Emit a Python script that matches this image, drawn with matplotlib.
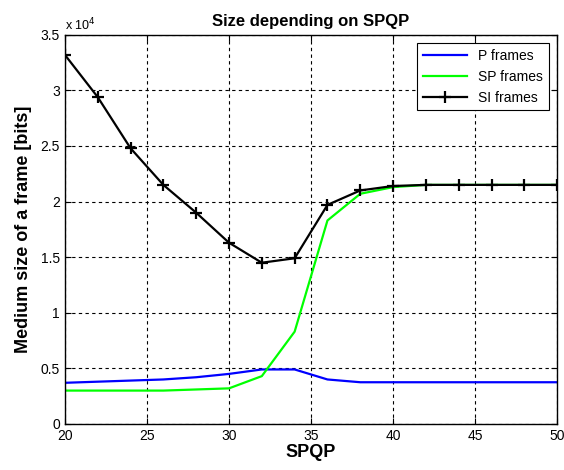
import numpy as np
import matplotlib
matplotlib.use("Agg")
import matplotlib.pyplot as plt

plt.rcParams['font.family'] = ['Liberation Sans', 'DejaVu Sans']

spqp = [20, 22, 24, 26, 28, 30, 32, 34, 36, 38, 40, 42, 44, 46, 48, 50]
p_frames = [0.37, 0.38, 0.39, 0.40, 0.42, 0.45, 0.49, 0.49, 0.40, 0.375, 0.375,
            0.375, 0.375, 0.375, 0.375, 0.375]
sp_frames = [0.30, 0.30, 0.30, 0.30, 0.31, 0.32, 0.43, 0.83, 1.83, 2.07, 2.13,
             2.15, 2.15, 2.15, 2.15, 2.15]
si_frames = [3.32, 2.94, 2.48, 2.15, 1.90, 1.63, 1.45, 1.49, 1.97, 2.10, 2.14,
             2.15, 2.15, 2.15, 2.15, 2.15]

fig = plt.figure(figsize=(5.64, 4.70), dpi=100)
ax = fig.add_axes([0.115, 0.098, 0.873, 0.828])

ax.plot(spqp, p_frames, color='#0000ff', lw=1.6, label='P frames')
ax.plot(spqp, sp_frames, color='#00ff00', lw=1.6, label='SP frames')
ax.plot(spqp, si_frames, color='black', lw=1.6, marker='+', ms=9, mew=1.6,
        label='SI frames')

ax.set_xlim(20, 50)
ax.set_ylim(0, 3.5)
ax.set_xticks(np.arange(20, 51, 5))
ax.set_yticks(np.arange(0, 3.51, 0.5))
ax.set_yticklabels(['0', '0.5', '1', '1.5', '2', '2.5', '3', '3.5'])
ax.tick_params(direction='in', labelsize=10, top=True, right=True, length=4)
ax.grid(True, color='black', linestyle=(0, (3, 3)), lw=0.8)
for s in ax.spines.values():
    s.set_linewidth(1.0)

ax.text(0.0, 1.005, r'x 10$^{4}$', transform=ax.transAxes, fontsize=9,
        va='bottom', ha='left')
ax.set_title('Size depending on SPQP', fontsize=12, fontweight='bold', pad=6)
ax.set_xlabel('SPQP', fontsize=13, fontweight='bold', labelpad=1)
ax.set_ylabel('Medium size of a frame [bits]', fontsize=13, fontweight='bold',
              labelpad=6)

leg = ax.legend(loc='upper right', fontsize=10, fancybox=False, framealpha=1,
                edgecolor='black', handlelength=3.2, borderaxespad=0.6)
leg.get_frame().set_linewidth(0.8)

fig.savefig('out.png', dpi=100)
